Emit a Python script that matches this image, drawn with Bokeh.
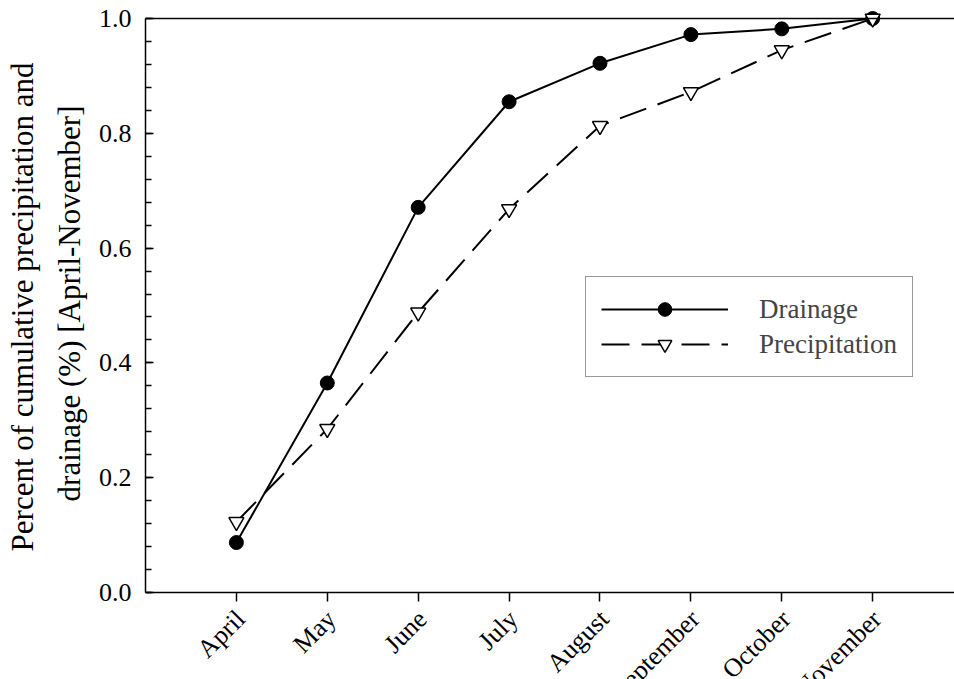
import math
from bokeh.plotting import figure
from bokeh.models import (ColumnDataSource, FixedTicker, Span, Legend, LegendItem,
                          LabelSet, Grid, Title)
from bokeh.embed import file_html
from bokeh.resources import INLINE

months = ["April", "May", "June", "July", "August", "September", "October", "November"]
month_pos = [1, 2, 3, 4, 5, 6, 7, 8]
drainage = [0.087, 0.365, 0.671, 0.855, 0.922, 0.972, 0.982, 1.0]
precipitation = [0.123, 0.285, 0.488, 0.668, 0.813, 0.872, 0.945, 1.0]
y_ticks = [0.0, 0.2, 0.4, 0.6, 0.8, 1.0]
y_tick_labels = ["0.0", "0.2", "0.4", "0.6", "0.8", "1.0"]
y_minor = [round(i * 0.04, 2) for i in range(26)]
y_title = ["Percent of cumulative precipitation and", "drainage (%) [April-November]"]

FONT = "Liberation Serif"

p = figure(width=954, height=679, x_range=(0, 8.9), y_range=(-0.1516, 1.014),
           x_axis_location=None,
           output_backend="svg", toolbar_location=None,
           min_border_left=145, min_border_right=0, min_border_top=10, min_border_bottom=0)
p.outline_line_color = None
p.grid.visible = False
p.background_fill_color = "white"
p.border_fill_color = "white"

src = ColumnDataSource(dict(x=month_pos, d=drainage, pr=precipitation, m=months,
                            y0=[0] * len(months)))

l1 = p.line("x", "d", source=src, line_color="black", line_width=2)
s1 = p.scatter("x", "d", source=src, marker="circle", size=14,
               fill_color="black", line_color="black")
l2 = p.line("x", "pr", source=src, line_color="black", line_width=2, line_dash="28 12")
s2 = p.scatter("x", "pr", source=src, marker="inverted_triangle", size=15,
               fill_color="white", line_color="black", line_width=1.5)

# frame lines: top border and x axis line
p.add_layout(Span(location=1.0, dimension="width", line_color="black", line_width=1.5))
p.add_layout(Span(location=0.0, dimension="width", line_color="black", line_width=1.5))

# x ticks (outward) drawn as short grid lines below y = 0
xticks = Grid(dimension=0, ticker=FixedTicker(ticks=month_pos), cross_bounds=(-9 / 574, 0),
              grid_line_color="black", grid_line_width=1.5)
p.add_layout(xticks)

# y axis
ya = p.yaxis[0]
ya.ticker = FixedTicker(ticks=y_ticks, minor_ticks=y_minor)
ya.major_label_overrides = {t: s for t, s in zip(y_ticks, y_tick_labels)}
ya.bounds = (0, 1.0)
ya.major_tick_in = 8
ya.major_tick_out = 0
ya.minor_tick_in = 6
ya.minor_tick_out = 0
ya.axis_line_width = 1.5
ya.major_tick_line_width = 1.5
ya.minor_tick_line_width = 1.5
ya.major_label_text_font = FONT
ya.major_label_text_font_size = "26px"
ya.major_label_text_color = "black"
ya.major_label_standoff = 14

# two-line y axis title (inner line first)
for txt, off, so in [(y_title[1], 95, 18), (y_title[0], 52, 2)]:
    p.add_layout(Title(text=txt, align="right", offset=off, standoff=so,
                       text_font=FONT, text_font_size="31px", text_font_style="normal",
                       text_color="black"), "left")

# month labels (rotated)
labels = LabelSet(x="x", y="y0", text="m", source=src, angle=math.pi / 4,
                  text_align="right", text_baseline="top", x_offset=-6, y_offset=-12,
                  text_font=FONT, text_font_size="26px", text_color="black")
p.add_layout(labels)

legend = Legend(items=[LegendItem(label="Drainage", renderers=[l1, s1]),
                       LegendItem(label="Precipitation", renderers=[l2, s2])],
                location=(440, 302), padding=15, glyph_width=127, glyph_height=34,
                label_height=34, label_standoff=31, spacing=1, margin=0,
                label_text_font=FONT, label_text_font_size="27px",
                border_line_color="#333333", border_line_width=1,
                background_fill_color="white", background_fill_alpha=1)
p.add_layout(legend)

open("out.html", "w").write(file_html(p, INLINE))
